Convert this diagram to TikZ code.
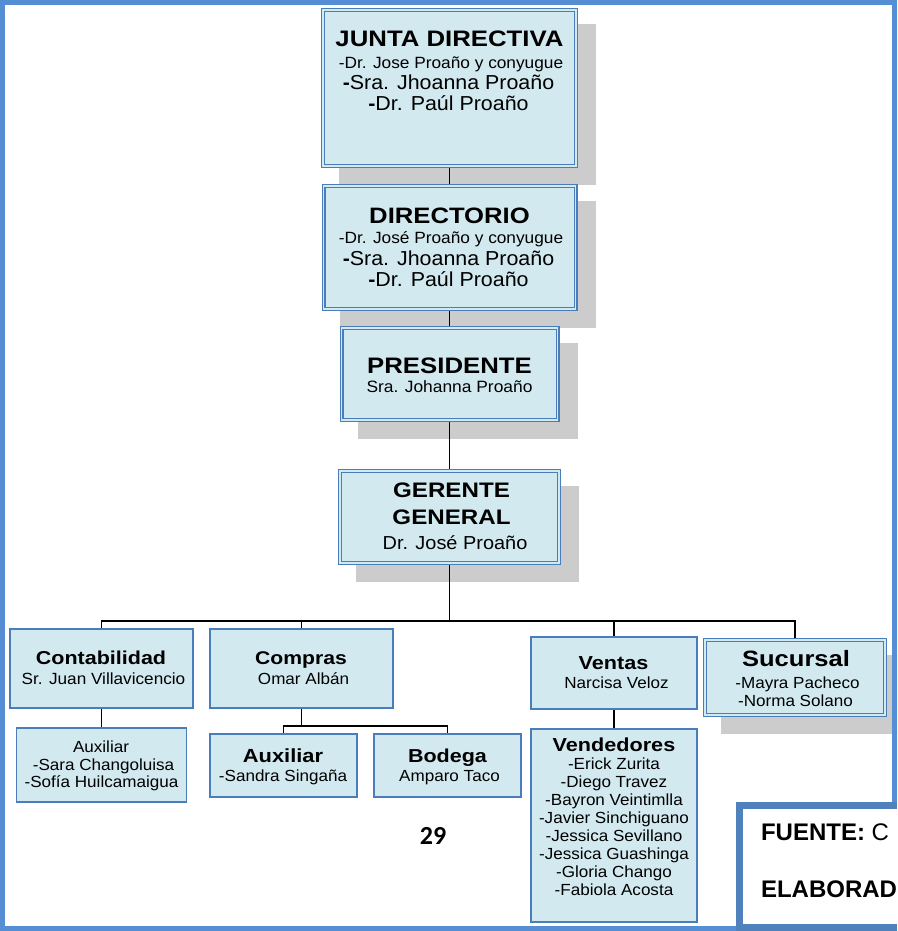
\documentclass[tikz,border=0pt]{standalone}
\usepackage{fontspec}
\setmainfont[FakeStretch=1.06]{Liberation Sans}
\newfontfamily\headfont[FakeStretch=1.15]{Liberation Sans}
\newfontfamily\notefont{Liberation Sans}
\newfontfamily\pagefont{Carlito}
\newcommand\fsz[1]{\fontsize{#1}{#1}\selectfont}

\definecolor{boxfill}{RGB}{210,233,240}
\definecolor{boxline}{RGB}{74,126,187}
\definecolor{framecol}{RGB}{85,142,213}
\definecolor{notecol}{RGB}{79,129,189}
\definecolor{shadowgray}{RGB}{204,204,204}

\pgfdeclarelayer{shade}
\pgfdeclarelayer{links}
\pgfsetlayers{shade,links,main}

\tikzset{
  unit/.style={rectangle, draw=boxline, fill=boxfill, line width=1.2pt,
    inner sep=0pt, outer sep=0pt},
  unitdbl/.style={unit, double=boxfill, double distance=1.6pt},
  link/.style={draw=black, line width=1.4pt},
  txt/.style={anchor=base, inner sep=0pt, outer sep=0pt, text=black},
  head/.style={txt, font=\headfont\bfseries\fsz{#1}},
  body/.style={txt, font=\fsz{#1}},
}
\newcommand\dropshade[1]{\fill[shadowgray] ([shift={(16,14.5)}]#1.north west)
  rectangle ([shift={(20,18.5)}]#1.south east);}

\begin{document}
\begin{tikzpicture}[x=1pt,y=-1pt]
\useasboundingbox (0,0) rectangle (897,931);

% ---- boxes ----
\node[unitdbl, minimum width=253pt, minimum height=156pt] (junta) at (449.5,88) {};
\node[unitdbl, minimum width=252pt, minimum height=123pt] (dir) at (449.5,247.5) {};
\node[unitdbl, minimum width=216pt, minimum height=92pt] (pres) at (449.5,374) {};
\node[unitdbl, minimum width=219pt, minimum height=92pt] (ger) at (449.5,517) {};

\node[unit, minimum width=183pt, minimum height=79pt] (conta) at (101.5,668.5) {};
\node[unit, minimum width=183pt, minimum height=79pt] (compras) at (301.5,668.5) {};
\node[unit, minimum width=166pt, minimum height=72pt] (ventas) at (614,673) {};
\node[unitdbl, minimum width=180pt, minimum height=75pt] (suc) at (795,677.5) {};

\node[unit, minimum width=170pt, minimum height=74pt] (auxc) at (101.5,765) {};
\node[unit, minimum width=147pt, minimum height=63pt] (auxp) at (283.5,765.5) {};
\node[unit, minimum width=147pt, minimum height=63pt] (bodega) at (447.5,765.5) {};
\node[unit, minimum width=166pt, minimum height=193pt] (vend) at (614,825.5) {};

% ---- shadows ----
\begin{pgfonlayer}{shade}
  \begin{scope}
    \clip (0,0) rectangle (897,931);
    \dropshade{junta}
    \dropshade{dir}
    \dropshade{pres}
    \dropshade{ger}
    \dropshade{suc}
  \end{scope}
\end{pgfonlayer}

% ---- connectors ----
\begin{pgfonlayer}{links}
  \coordinate (bus) at (449.5,621);
  \coordinate (subbus) at (301.5,726);
  \draw[link] (junta.south) -- (dir.north);
  \draw[link] (dir.south) -- (pres.north);
  \draw[link] (pres.south) -- (ger.north);
  \draw[link] (ger.south) -- (bus);
  \draw[link] (conta.north) |- (bus) -| (suc.north);
  \draw[link] (compras.north) -- (compras.north |- bus);
  \draw[link] (ventas.north) -- (ventas.north |- bus);
  \draw[link] (conta.south) -- (auxc.north);
  \draw[link] (compras.south) -- (subbus);
  \draw[link] (auxp.north) |- (subbus) -| (bodega.north);
  \draw[link] (ventas.south) -- (vend.north);
\end{pgfonlayer}

% ---- texts ----
\node[head=22.4] (junta-t) at (449.5,47) {JUNTA DIRECTIVA};
\node[body=16.3] (junta-a) at (451,69) {-Dr. Jose Proaño y conyugue};
\node[body=20.2] (junta-b) at (448.5,90) {{\bfseries -}Sra. Jhoanna Proaño};
\node[body=20.2] (junta-c) at (448.5,111) {{\bfseries -}Dr. Paúl Proaño};

\node[head=22.3] (dir-t) at (449.5,223) {DIRECTORIO};
\node[body=16.3] (dir-a) at (451,243) {-Dr. José Proaño y conyugue};
\node[body=20.2] (dir-b) at (448.5,265) {{\bfseries -}Sra. Jhoanna Proaño};
\node[body=20.2] (dir-c) at (448.5,286) {{\bfseries -}Dr. Paúl Proaño};

\node[head=22.4] (pres-t) at (449.5,373) {PRESIDENTE};
\node[body=16.4] (pres-a) at (449.5,392) {Sra. Johanna Proaño};

\node[head=21] (ger-t1) at (451.5,497) {GERENTE};
\node[head=21] (ger-t2) at (451.5,524) {GENERAL};
\node[body=18.8] (ger-a) at (455,549) {Dr. José Proaño};

\node[head=18.7] (conta-t) at (101,664) {Contabilidad};
\node[body=16.2] (conta-a) at (103.5,684) {Sr. Juan Villavicencio};

\node[head=18.4] (compras-t) at (301,664) {Compras};
\node[body=16.1] (compras-a) at (303.5,684) {Omar Albán};

\node[head=18.8] (ventas-t) at (613.5,669) {Ventas};
\node[body=16.1] (ventas-a) at (616.5,688) {Narcisa Veloz};

\node[head=22.2] (suc-t) at (796,666) {Sucursal};
\node[body=16.1] (suc-a) at (797.5,688) {-Mayra Pacheco};
\node[body=16.1] (suc-b) at (795.5,706) {-Norma Solano};

\node[body=16.1] (auxc-t) at (101,752) {Auxiliar};
\node[body=16.1] (auxc-a) at (103.5,770) {-Sara Changoluisa};
\node[body=16.1] (auxc-b) at (101.5,787) {-Sofía Huilcamaigua};

\node[head=19] (auxp-t) at (283,762) {Auxiliar};
\node[body=16.1] (auxp-a) at (283,781) {-Sandra Singaña};

\node[head=18.7] (bodega-t) at (447.5,762) {Bodega};
\node[body=16.1] (bodega-a) at (449.5,781) {Amparo Taco};

\node[head=18.8] (vend-t) at (614,751) {Vendedores};
\node[body=16.1] (vend-1) at (614,769) {-Erick Zurita};
\node[body=16.1] (vend-2) at (614,787) {-Diego Travez};
\node[body=16.1] (vend-3) at (614,805) {-Bayron Veintimlla};
\node[body=16.1] (vend-4) at (614,823) {-Javier Sinchiguano};
\node[body=16.1] (vend-5) at (614,841) {-Jessica Sevillano};
\node[body=16.1] (vend-6) at (614,859) {-Jessica Guashinga};
\node[body=16.1] (vend-7) at (614,877) {-Gloria Chango};
\node[body=16.1] (vend-8) at (614,895) {-Fabiola Acosta};

\node[txt, font=\pagefont\bfseries\fsz{26}] (pagenum) at (433,844) {29};

% ---- page frame ----
\draw[framecol, line width=5pt] (2.5,2.5) rectangle (894.5,928.5);

% ---- source note box ----
\fill[white] (739.5,805.5) rectangle (897,927.5);
\draw[notecol, line width=7pt] (897,805.5) -- (739.5,805.5) -- (739.5,927.5) -- (897,927.5);
\begin{scope}
  \clip (743,809) rectangle (897,924);
  \node[txt, anchor=base west, font=\notefont\fsz{24}] (fuente) at (761,840)
    {\textbf{FUENTE:} C};
  \node[txt, anchor=base west, font=\notefont\bfseries\fsz{24}] (elab) at (761,897)
    {ELABORAD};
\end{scope}
\end{tikzpicture}
\end{document}
